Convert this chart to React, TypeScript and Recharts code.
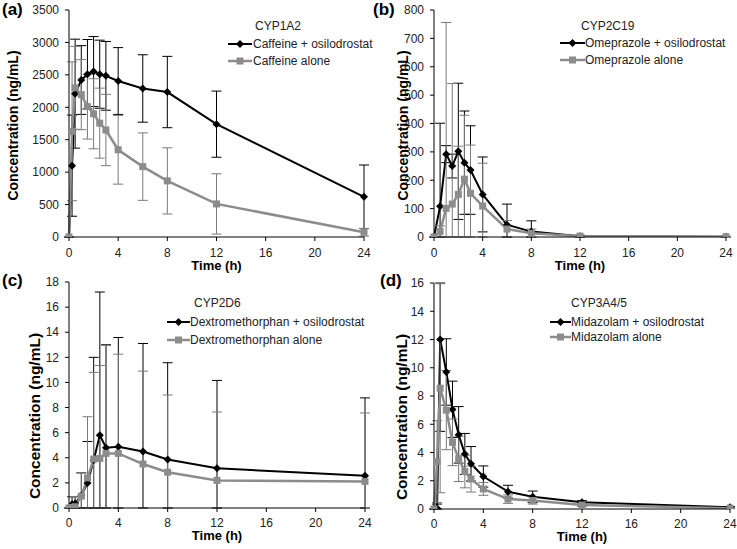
import React from 'react';
import { LineChart, Line, XAxis, YAxis, ErrorBar, Legend } from 'recharts';

const FONT = '"Liberation Sans", Arial, Helvetica, sans-serif';
const BLACK = '#000000';
const GREY = '#8c8c8c';

// sampling times (h)
const timesA = [0, 0.25, 0.5, 1, 1.5, 2, 2.5, 3, 4, 6, 8, 12, 24];
const timesB = [0, 0.5, 1, 1.5, 2, 2.5, 3, 4, 6, 8, 12, 24];
const timesC = [0, 0.25, 0.5, 1, 1.5, 2, 2.5, 3, 4, 6, 8, 12, 24];
const timesD = [0, 0.25, 0.5, 1, 1.5, 2, 2.5, 3, 4, 6, 8, 12, 24];

// (a) CYP1A2 – caffeine
const caffeineOsi = [0, 1100, 2210, 2420, 2510, 2550, 2510, 2485, 2405, 2290, 2235, 1740, 620];
const caffeineOsiSd = [0, 780, 840, 530, 535, 540, 525, 530, 515, 520, 550, 510, 490];
const caffeineAlone = [0, 1630, 2300, 2195, 2010, 1900, 1755, 1650, 1345, 1085, 865, 510, 72];
const caffeineAloneSd = [0, 1070, 640, 540, 500, 540, 540, 550, 530, 520, 510, 465, 60];

// (b) CYP2C19 – omeprazole
const omeprazoleOsi = [0, 108, 292, 250, 302, 262, 236, 150, 43, 19, 3, 1];
const omeprazoleOsiSd = [0, 293, 30, 42, 240, 182, 156, 132, 73, 38, 3, 1];
const omeprazoleAlone = [0, 19, 101, 116, 150, 204, 154, 109, 28, 13, 3, 1];
const omeprazoleAloneSd = [0, 20, 655, 425, 170, 225, 170, 151, 30, 15, 3, 1];

// (c) CYP2D6 – dextromethorphan
const dextroOsi = [0, 0.3, 0.35, 1.0, 2.0, 3.8, 5.8, 4.8, 4.88, 4.5, 3.87, 3.16, 2.57];
const dextroOsiSd = [0, 0.6, 0.55, 1.8, 3.3, 8.2, 11.4, 8.2, 8.7, 8.6, 7.7, 7.0, 6.2];
const dextroAlone = [0, 0.05, 0.1, 0.95, 2.4, 3.9, 3.95, 4.35, 4.35, 3.5, 2.85, 2.2, 2.12];
const dextroAloneSd = [0, 0.85, 0.8, 1.85, 4.87, 6.9, 7.4, 8.6, 7.9, 7.4, 6.15, 5.45, 5.45];

// (d) CYP3A4/5 – midazolam
const midazolamOsi = [0, 0.05, 12.0, 9.7, 7.05, 5.25, 3.9, 3.2, 2.3, 1.23, 0.87, 0.47, 0.12];
const midazolamOsiSd = [0, 0.3, 6.5, 2.35, 2.0, 2.0, 1.45, 1.22, 0.75, 0.45, 0.4, 0.12, 0.05];
const midazolamAlone = [0, 3.35, 8.55, 7.0, 4.72, 3.55, 2.65, 2.12, 1.42, 0.7, 0.6, 0.28, 0.06];
const midazolamAloneSd = [0, 2.9, 7.4, 2.8, 1.65, 1.6, 1.15, 0.92, 0.45, 0.3, 0.25, 0.1, 0.04];

const xTicks = [0, 4, 8, 12, 16, 20, 24];
const ticksA = [0, 500, 1000, 1500, 2000, 2500, 3000, 3500];
const ticksB = [0, 100, 200, 300, 400, 500, 600, 700, 800];
const ticksC = [0, 2, 4, 6, 8, 10, 12, 14, 16, 18];
const ticksD = [0, 2, 4, 6, 8, 10, 12, 14, 16];

// error bars are cut at the plot edges, like the original
const clip = (v: number[], sd: number[], max: number) =>
  v.map((x, i) => [Math.min(sd[i], x), Math.min(sd[i], max - x)]);

const rows = (t: number[], s1: number[], d1: number[], s2: number[], d2: number[], max: number) => {
  const e1 = clip(s1, d1, max);
  const e2 = clip(s2, d2, max);
  return t.map((tt, i) => ({ t: tt, s1: s1[i], e1: e1[i], s2: s2[i], e2: e2[i] }));
};

const diamond = (props: any) => {
  const { cx, cy, index } = props;
  if (cx == null || cy == null) return <g key={`dm-${index}`} />;
  const r = 4;
  return (
    <path
      key={`dm-${index}`}
      d={`M${cx},${cy - r}L${cx + r},${cy}L${cx},${cy + r}L${cx - r},${cy}Z`}
      fill={BLACK}
    />
  );
};

const square = (props: any) => {
  const { cx, cy, index } = props;
  if (cx == null || cy == null) return <g key={`sq-${index}`} />;
  return <rect key={`sq-${index}`} x={cx - 3.5} y={cy - 3.5} width={7} height={7} fill={GREY} />;
};

const panels = [
  {
    letter: '(a)', letterX: 2, letterY: 15,
    left: 0, top: 0, width: 368, height: 270,
    margin: { top: 10, right: 4, left: 0, bottom: 0 }, yWidth: 69,
    yMax: 3500, yTicks: ticksA, yTitleX: 13, yTitleDy: 2, yTitleSize: 14,
    xTickMargin: 7, xTitleOffset: 0,
    title: 'CYP1A2', titleX: 255, titleY: 26, symX: 228, symW: 24, textX: 253, rowY: [44, 61],
    names: ['Caffeine + osilodrostat', 'Caffeine alone'],
    data: rows(timesA, caffeineOsi, caffeineOsiSd, caffeineAlone, caffeineAloneSd, 3500),
  },
  {
    letter: '(b)', letterX: 5, letterY: 15,
    left: 368, top: 0, width: 369, height: 270,
    margin: { top: 10, right: 11, left: 0, bottom: 0 }, yWidth: 66,
    yMax: 800, yTicks: ticksB, yTitleX: 35, yTitleDy: 2, yTitleSize: 14,
    xTickMargin: 7, xTitleOffset: 0,
    title: 'CYP2C19', titleX: 213, titleY: 26, symX: 192, symW: 25, textX: 217, rowY: [43, 60],
    names: ['Omeprazole + osilodrostat', 'Omeprazole alone'],
    data: rows(timesB, omeprazoleOsi, omeprazoleOsiSd, omeprazoleAlone, omeprazoleAloneSd, 800),
  },
  {
    letter: '(c)', letterX: 2, letterY: 16,
    left: 0, top: 270, width: 368, height: 271,
    margin: { top: 12, right: 3, left: 0, bottom: 0 }, yWidth: 69,
    yMax: 18, yTicks: ticksC, yTitleX: 34, yTitleDy: 21, yTitleSize: 15.5,
    xTickMargin: 6, xTitleOffset: 1,
    title: 'CYP2D6', titleX: 194, titleY: 33, symX: 167, symW: 23, textX: 190, rowY: [52, 70],
    names: ['Dextromethorphan + osilodrostat', 'Dextromethorphan alone'],
    data: rows(timesC, dextroOsi, dextroOsiSd, dextroAlone, dextroAloneSd, 18),
  },
  {
    letter: '(d)', letterX: 12, letterY: 16,
    left: 368, top: 270, width: 369, height: 272,
    margin: { top: 13, right: 7, left: 0, bottom: 0 }, yWidth: 66,
    yMax: 16, yTicks: ticksD, yTitleX: 33, yTitleDy: 21, yTitleSize: 15.5,
    xTickMargin: 6, xTitleOffset: 1,
    title: 'CYP3A4/5', titleX: 203, titleY: 33, symX: 182, symW: 21, textX: 203, rowY: [52, 67],
    names: ['Midazolam + osilodrostat', 'Midazolam alone'],
    data: rows(timesD, midazolamOsi, midazolamOsiSd, midazolamAlone, midazolamAloneSd, 16),
  },
];

type P = (typeof panels)[number];

function Overlay({ p }: { p: P }) {
  const styles = [
    { color: BLACK, w: 2, marker: 'd' },
    { color: GREY, w: 2.5, marker: 's' },
  ];
  return (
    <svg width={p.width} height={p.height} style={{ overflow: 'visible', display: 'block' }}>
      <text x={p.letterX} y={p.letterY} fontFamily={FONT} fontSize={17} fontWeight="bold" fill={BLACK}>
        {p.letter}
      </text>
      <text x={p.titleX} y={p.titleY + 4.3} fontFamily={FONT} fontSize={12} fill="#222">
        {p.title}
      </text>
      {p.names.map((name, i) => {
        const y = p.rowY[i];
        const mx = p.symX + p.symW / 2;
        const st = styles[i];
        return (
          <g key={name}>
            <line x1={p.symX} x2={p.symX + p.symW} y1={y} y2={y} stroke={st.color} strokeWidth={st.w} />
            {st.marker === 'd' ? (
              <path d={`M${mx},${y - 4}L${mx + 4},${y}L${mx},${y + 4}L${mx - 4},${y}Z`} fill={BLACK} />
            ) : (
              <rect x={mx - 3.5} y={y - 3.5} width={7} height={7} fill={GREY} />
            )}
            <text x={p.textX} y={y + 4.3} fontFamily={FONT} fontSize={12} fill="#222">
              {name}
            </text>
          </g>
        );
      })}
    </svg>
  );
}

function Panel({ p }: { p: P }) {
  return (
    <div style={{ position: 'absolute', left: p.left, top: p.top }}>
      <LineChart width={p.width} height={p.height} data={p.data} margin={p.margin}>
        <XAxis
          dataKey="t"
          type="number"
          domain={[0, 24]}
          ticks={xTicks}
          interval={0}
          height={33}
          axisLine={{ stroke: BLACK, strokeWidth: 1 }}
          tickLine={{ stroke: BLACK }}
          tickSize={4}
          tickMargin={p.xTickMargin}
          tick={{ fontSize: 12, fill: '#222', fontFamily: FONT }}
          label={{
            value: 'Time (h)',
            position: 'insideBottom',
            offset: p.xTitleOffset,
            style: { fontFamily: FONT, fontSize: 13, fontWeight: 'bold', fill: BLACK },
          }}
        />
        <YAxis
          type="number"
          domain={[0, p.yMax]}
          ticks={p.yTicks}
          interval={0}
          allowDataOverflow
          width={p.yWidth}
          axisLine={{ stroke: BLACK, strokeWidth: 1 }}
          tickLine={{ stroke: BLACK }}
          tickSize={4}
          tickMargin={6}
          tick={{ fontSize: 12, fill: '#222', fontFamily: FONT }}
          label={{
            value: 'Concentration (ng/mL)',
            angle: -90,
            position: 'insideLeft',
            offset: p.yTitleX,
            dy: p.yTitleDy,
            style: {
              textAnchor: 'middle',
              fontFamily: FONT,
              fontSize: p.yTitleSize,
              fontWeight: 'bold',
              fill: BLACK,
            },
          }}
        />
        <Line
          dataKey="s1"
          name={p.names[0]}
          type="linear"
          stroke={BLACK}
          strokeWidth={2}
          dot={diamond}
          activeDot={false}
          isAnimationActive={false}
        >
          <ErrorBar dataKey="e1" width={5} stroke={BLACK} strokeWidth={1} direction="y" isAnimationActive={false} />
        </Line>
        <Line
          dataKey="s2"
          name={p.names[1]}
          type="linear"
          stroke={GREY}
          strokeWidth={2.5}
          dot={square}
          activeDot={false}
          isAnimationActive={false}
        >
          <ErrorBar dataKey="e2" width={5} stroke="#7a7a7a" strokeWidth={1} direction="y" isAnimationActive={false} />
        </Line>
        <Legend
          layout="vertical"
          align="center"
          verticalAlign="middle"
          wrapperStyle={{ left: 0, top: 0, width: p.width, height: p.height, pointerEvents: 'none' }}
          content={() => <Overlay p={p} />}
        />
      </LineChart>
    </div>
  );
}

export default function App() {
  return (
    <div style={{ position: 'absolute', left: 0, top: 0, width: 737, height: 549, background: '#fff' }}>
      <style>{'.recharts-surface { overflow: visible; }'}</style>
      {panels.map((p) => (
        <Panel key={p.letter} p={p} />
      ))}
    </div>
  );
}
